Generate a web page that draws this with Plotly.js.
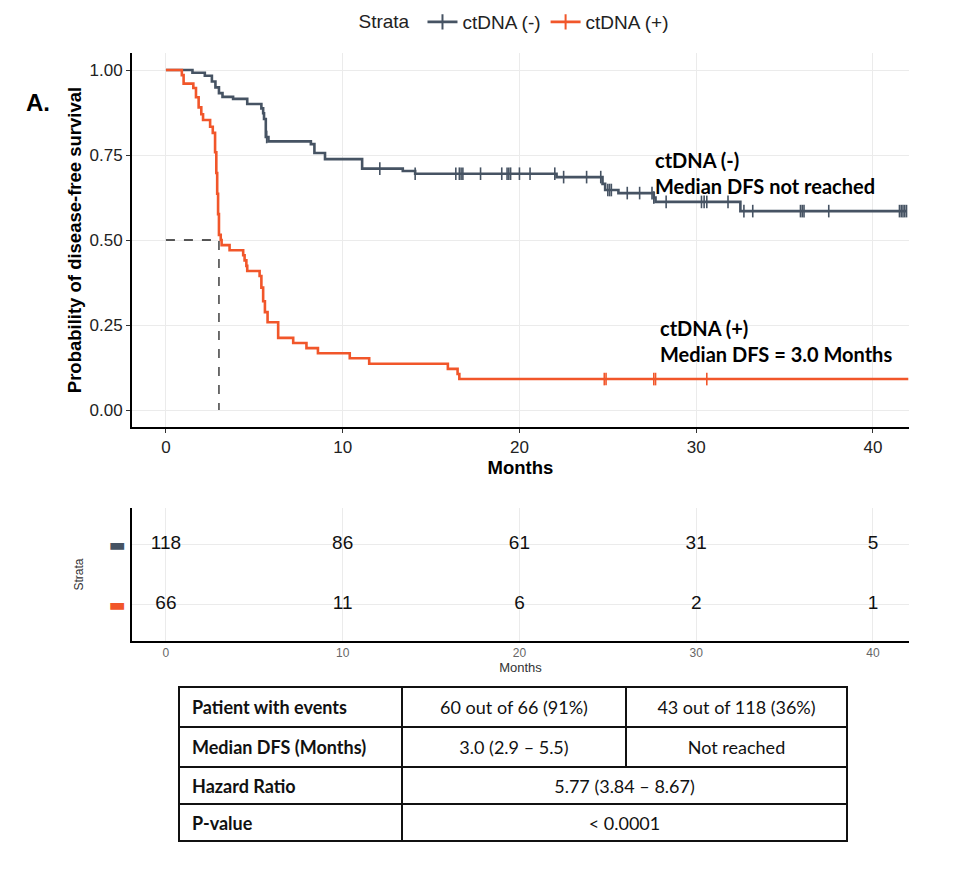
<!DOCTYPE html>
<html>
<head>
<meta charset="utf-8">
<script src="https://cdn.plot.ly/plotly-3.0.1.min.js"></script>
<style>
  html, body { margin: 0; padding: 0; background: #fff; }
  #wrap { position: relative; width: 954px; height: 882px; }
  #chart { position: absolute; left: 0; top: 0; width: 954px; height: 882px; }
  #tbl { position: absolute; left: 178px; top: 686px; width: 670px; border-collapse: collapse;
         font-family: Lato, "Open Sans", sans-serif; font-size: 18px; color: #111; }
  #tbl td { border: 2px solid #111; padding: 0; }
  #tbl td.lab { font-weight: bold; text-align: left; padding-left: 12px; width: 209px; }
  #tbl td.val { text-align: center; }
</style>
</head>
<body>
<div id="wrap">
  <div id="chart"></div>
  <table id="tbl"></table>
</div>
<script>
// ---------------- data ----------------
const strata = ['ctDNA (-)', 'ctDNA (+)'];
const stratColors = ['#465363', '#f1562a'];

// ctDNA (-): KM step curve (time in months, survival after the step)
const negTime = [0, 1.5, 2.2, 2.6, 2.8, 3.0, 3.2, 3.8, 4.6, 5.4, 5.5, 5.55, 5.65, 5.8, 8.2, 8.4, 9.0, 11.1, 13.4, 14.1, 22.1, 24.7, 24.85, 25.6, 27.6, 27.7, 32.5, 41.9];
const negSurv = [1.0, 0.992, 0.983, 0.966, 0.949, 0.932, 0.921, 0.915, 0.900, 0.887, 0.873, 0.856, 0.803, 0.790, 0.782, 0.756, 0.738, 0.710, 0.703, 0.695, 0.685, 0.665, 0.647, 0.638, 0.625, 0.612, 0.585, 0.585];
const negCensor = [5.7, 12.1, 14.1, 16.4, 16.6, 16.7, 16.8, 17.8, 19.0, 19.3, 19.4, 19.5, 20.0, 20.6, 22.0, 22.5, 23.8, 24.6, 25.0, 25.1, 25.2, 26.1, 26.8, 27.5, 27.6, 28.3, 30.3, 30.45, 30.6, 31.8, 32.7, 33.2, 35.9, 36.0, 36.1, 37.5, 41.5, 41.6, 41.7, 41.8, 41.9];

// ctDNA (+)
const posTime = [0, 0.9, 1.0, 1.55, 1.7, 1.85, 2.0, 2.1, 2.5, 2.65, 2.78, 2.85, 2.9, 2.95, 3.0, 3.1, 3.15, 3.6, 4.37, 4.45, 4.55, 4.6, 5.3, 5.4, 5.5, 5.6, 5.75, 6.35, 7.2, 7.95, 8.6, 10.4, 11.5, 15.95, 16.5, 16.6, 42.0];
const posSurv = [1.0, 0.985, 0.960, 0.947, 0.920, 0.890, 0.870, 0.853, 0.833, 0.815, 0.758, 0.697, 0.636, 0.576, 0.515, 0.500, 0.485, 0.470, 0.455, 0.440, 0.424, 0.409, 0.394, 0.360, 0.320, 0.288, 0.258, 0.212, 0.197, 0.182, 0.167, 0.152, 0.136, 0.121, 0.106, 0.091, 0.091];
const posCensor = [24.8, 24.9, 27.6, 27.7, 30.6];

// median DFS of ctDNA (+)
const medianTime = 3.0;
const medianSurv = 0.5;

// number at risk
const riskTimes = [0, 10, 20, 30, 40];
const riskNeg = [118, 86, 61, 31, 5];
const riskPos = [66, 11, 6, 2, 1];

const monthTicks = [0, 10, 20, 30, 40];
const survTicks = [0, 0.25, 0.5, 0.75, 1.0];
const survTickText = ['0.00', '0.25', '0.50', '0.75', '1.00'];

// summary table
const tableRows = [
  ['Patient with events', '60 out of 66 (91%)', '43 out of 118 (36%)'],
  ['Median DFS (Months)', '3.0 (2.9 \u2013 5.5)', 'Not reached'],
  ['Hazard Ratio', '5.77 (3.84 \u2013 8.67)'],
  ['P-value', '< 0.0001']
];

// ---------------- helpers ----------------
function stepAt(times, surv, t) {
  let s = surv[0];
  for (let i = 0; i < times.length; i++) { if (times[i] <= t) s = surv[i]; }
  return s;
}

const W = 954, H = 882;
const px = v => v / W, py = v => 1 - v / H;

const traces = [];
const curves = [[negTime, negSurv, negCensor], [posTime, posSurv, posCensor]];
curves.forEach((c, k) => {
  traces.push({
    type: 'scatter', mode: 'lines', x: c[0], y: c[1], line: {shape: 'hv', color: stratColors[k], width: 2.6},
    showlegend: false, hoverinfo: 'skip', xaxis: 'x', yaxis: 'y'
  });
  traces.push({
    type: 'scatter', mode: 'markers', x: c[2], y: c[2].map(t => stepAt(c[0], c[1], t)),
    marker: {symbol: 'line-ns', size: 9, color: stratColors[k], line: {color: stratColors[k], width: 1.6}},
    showlegend: false, hoverinfo: 'skip', xaxis: 'x', yaxis: 'y'
  });
});
// median dashed guide
traces.push({
  type: 'scatter', mode: 'lines', x: [0, medianTime, medianTime], y: [medianSurv, medianSurv, 0],
  line: {color: '#222', width: 1.3, dash: 'dash'}, showlegend: false, hoverinfo: 'skip', xaxis: 'x', yaxis: 'y'
});
// legend entries
strata.forEach((s, k) => {
  traces.push({
    type: 'scatter', mode: 'lines+markers', x: [null], y: [null], name: s,
    line: {color: stratColors[k], width: 2.6},
    marker: {symbol: 'line-ns', size: 11, color: stratColors[k], line: {color: stratColors[k], width: 2}},
    xaxis: 'x', yaxis: 'y'
  });
});
// risk table text
[riskNeg, riskPos].forEach((r, k) => {
  traces.push({
    type: 'scatter', mode: 'text', x: riskTimes, y: riskTimes.map(() => 2 - k), text: r.map(String),
    textfont: {family: 'Liberation Sans Narrow, Arial Narrow, Liberation Sans, Arial', size: 19, color: '#111'},
    showlegend: false, hoverinfo: 'skip', xaxis: 'x2', yaxis: 'y2'
  });
});

const xDom = [px(132), px(909)];
const tickFont = {family: 'Liberation Sans, Arial, sans-serif', size: 17, color: '#222'};

const layout = {
  width: W, height: H,
  margin: {l: 0, r: 0, t: 0, b: 0},
  paper_bgcolor: '#fff', plot_bgcolor: '#fff',
  showlegend: true,
  legend: {
    orientation: 'h', x: px(515), xanchor: 'center', y: py(22), yanchor: 'middle',
    title: {text: 'Strata ', side: 'left', font: {family: 'Liberation Sans, Arial', size: 19, color: '#222'}},
    font: {family: 'Liberation Sans, Arial', size: 19, color: '#222'},
    itemwidth: 30, tracegroupgap: 0, bgcolor: 'rgba(0,0,0,0)'
  },
  xaxis: {
    domain: xDom, anchor: 'y', range: [-1.92, 42.04], tickvals: monthTicks,
    showgrid: true, gridcolor: '#ebebeb', gridwidth: 1, zeroline: false,
    showline: true, linecolor: '#000', linewidth: 2, mirror: false,
    ticks: 'outside', ticklen: 4, tickcolor: '#333', tickwidth: 1, tickfont: tickFont,
    title: {text: '<b>Months</b>', font: {family: 'Liberation Sans, Arial', size: 18.5, color: '#000'}, standoff: 1}
  },
  yaxis: {
    domain: [py(427), py(53)], anchor: 'x', range: [-0.05, 1.05], tickvals: survTicks, ticktext: survTickText,
    showgrid: true, gridcolor: '#ebebeb', gridwidth: 1, zeroline: false,
    showline: true, linecolor: '#000', linewidth: 2,
    ticks: 'outside', ticklen: 4, tickcolor: '#333', tickwidth: 1, tickfont: tickFont,
    title: {text: '<b>Probability of disease-free survival</b>', font: {family: 'Liberation Sans, Arial', size: 18.5, color: '#000'}, standoff: 3}
  },
  xaxis2: {
    domain: xDom, anchor: 'y2', range: [-1.92, 42.04], tickvals: monthTicks,
    showgrid: true, gridcolor: '#ebebeb', zeroline: false,
    showline: true, linecolor: '#000', linewidth: 2, ticks: '',
    tickfont: {family: 'Liberation Sans Narrow, Liberation Sans, Arial', size: 12, color: '#666'},
    title: {text: 'Months', font: {family: 'Liberation Sans Narrow, Liberation Sans, Arial', size: 13, color: '#333'}, standoff: 3}
  },
  yaxis2: {
    domain: [py(641), py(508)], anchor: 'x2', range: [0.4, 2.6], tickvals: [2, 1],
    ticktext: strata.map((s, k) => '<span style="color:' + stratColors[k] + '">\u25AC</span>'),
    showgrid: true, gridcolor: '#ebebeb', zeroline: false,
    showline: true, linecolor: '#000', linewidth: 2, ticks: '',
    ticklabelstandoff: 1,
    tickfont: {family: 'DejaVu Sans', size: 18, color: '#333'},
    title: {text: 'Strata', font: {family: 'Liberation Sans, Arial', size: 12, color: '#333'}, standoff: 22}
  },
  annotations: [
    {xref: 'paper', yref: 'paper', x: px(24), y: py(102), xanchor: 'left', yanchor: 'middle', showarrow: false,
     text: '<b>A.</b>', font: {family: 'Liberation Sans, Arial', size: 24, color: '#000'}},
    {xref: 'x', yref: 'y', x: 27.55, y: 0.697, xanchor: 'left', yanchor: 'middle', showarrow: false, align: 'left',
     text: '<b>ctDNA (-)<br>Median DFS not reached</b>', font: {family: 'Lato, Open Sans, sans-serif', size: 20, color: '#000'}},
    {xref: 'x', yref: 'y', x: 27.84, y: 0.2015, xanchor: 'left', yanchor: 'middle', showarrow: false, align: 'left',
     text: '<b>ctDNA (+)<br>Median DFS = ' + medianTime.toFixed(1) + ' Months</b>', font: {family: 'Lato, Open Sans, sans-serif', size: 20, color: '#000'}}
  ]
};

Plotly.newPlot('chart', traces, layout, {displayModeBar: false, staticPlot: true});

// summary table
const heights = [40, 40, 37, 37];
const tbl = document.getElementById('tbl');
tableRows.forEach((r, i) => {
  const tr = document.createElement('tr');
  tr.style.height = heights[i] + 'px';
  r.forEach((c, j) => {
    const td = document.createElement('td');
    td.textContent = c;
    td.className = j === 0 ? 'lab' : 'val';
    if (r.length === 2 && j === 1) td.colSpan = 2;
    if (j === 1) td.style.width = '222px';
    tr.appendChild(td);
  });
  tbl.appendChild(tr);
});
</script>
</body>
</html>
